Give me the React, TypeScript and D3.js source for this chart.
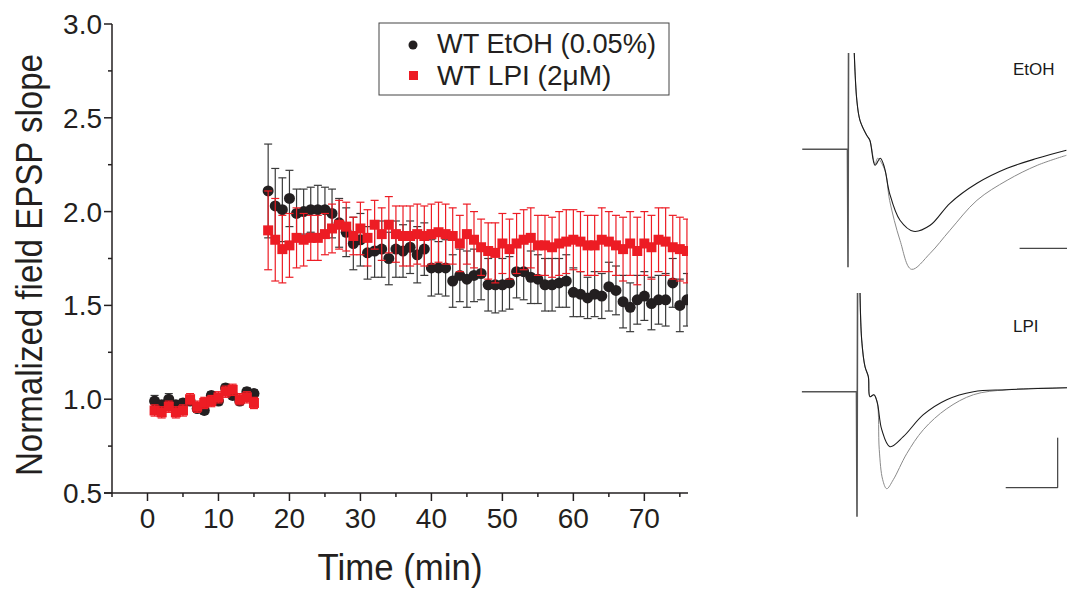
import React from 'react';
import * as d3 from 'd3';

// --- time course data (min, normalized fEPSP slope) ---
const minutes = [
  1, 2, 3, 4, 5, 6, 7, 8, 9, 10, 11, 12, 13, 14, 15,
  17, 18, 19, 20, 21, 22, 23, 24, 25, 26, 27, 28, 29, 30,
  31, 32, 33, 34, 35, 36, 37, 38, 39, 40, 41, 42, 43, 44, 45, 46,
  47, 48, 49, 50, 51, 52, 53, 54, 55, 56, 57, 58, 59, 60, 61, 62,
  63, 64, 65, 66, 67, 68, 69, 70, 71, 72, 73, 74, 75, 76,
];

const etohMean = [
  0.99, 0.97, 1.0, 0.97, 0.98, 0.99, 0.95, 0.94, 1.02, 0.99, 1.06, 1.02, 0.99, 1.04, 1.03,
  2.11, 2.03, 2.01, 2.07, 1.99, 2.0, 2.01, 2.01, 2.01, 1.99, 1.94, 1.89, 1.83, 1.85,
  1.78, 1.79, 1.8, 1.75, 1.8, 1.79, 1.81, 1.77, 1.8, 1.7, 1.7, 1.7, 1.63, 1.66, 1.64, 1.66,
  1.67, 1.61, 1.61, 1.61, 1.62, 1.68, 1.68, 1.65, 1.64, 1.61, 1.61, 1.62, 1.63, 1.57, 1.56, 1.54,
  1.56, 1.55, 1.6, 1.58, 1.52, 1.49, 1.53, 1.55, 1.51, 1.53, 1.53, 1.62, 1.5, 1.53,
];
const etohSem = [
  0.03, 0.02, 0.03, 0.02, 0.02, 0.02, 0.02, 0.02, 0.02, 0.02, 0.02, 0.02, 0.02, 0.02, 0.02,
  0.25, 0.2, 0.17, 0.15, 0.13, 0.12, 0.12, 0.13, 0.12, 0.13, 0.13, 0.13, 0.14, 0.14,
  0.14, 0.14, 0.15, 0.14, 0.15, 0.14, 0.14, 0.15, 0.14, 0.15, 0.14, 0.15, 0.14, 0.14, 0.15, 0.14,
  0.14, 0.14, 0.15, 0.14, 0.14, 0.14, 0.15, 0.14, 0.13, 0.14, 0.14, 0.13, 0.14, 0.13, 0.12, 0.11,
  0.12, 0.12, 0.13, 0.13, 0.14, 0.13, 0.13, 0.13, 0.14, 0.13, 0.14, 0.13, 0.14, 0.14,
];

const lpiMean = [
  0.94, 0.93, 0.96, 0.93, 0.94, 1.0, 0.96, 0.98, 0.99, 1.01, 1.04, 1.05, 1.0, 1.01, 0.98,
  1.9, 1.85, 1.8, 1.82, 1.86, 1.85, 1.86, 1.86, 1.88, 1.91, 1.93, 1.92, 1.87, 1.91,
  1.86, 1.93, 1.88, 1.93, 1.88, 1.87, 1.87, 1.88, 1.87, 1.88, 1.89, 1.88, 1.87, 1.83, 1.88, 1.85,
  1.81, 1.79, 1.78, 1.83, 1.8, 1.83, 1.85, 1.86, 1.82, 1.82, 1.81, 1.83, 1.84, 1.85, 1.84, 1.82,
  1.82, 1.85, 1.84, 1.82, 1.8, 1.83, 1.79, 1.83, 1.81, 1.85, 1.84, 1.81, 1.8, 1.79,
];
const lpiSem = [
  0.03, 0.03, 0.03, 0.03, 0.03, 0.03, 0.03, 0.03, 0.03, 0.03, 0.03, 0.03, 0.03, 0.03, 0.03,
  0.21, 0.22, 0.18, 0.17, 0.16, 0.14, 0.12, 0.12, 0.11, 0.13, 0.13, 0.13, 0.1, 0.14,
  0.15, 0.13, 0.14, 0.15, 0.15, 0.16, 0.16, 0.16, 0.16, 0.16, 0.16, 0.16, 0.15, 0.15, 0.16, 0.15,
  0.15, 0.15, 0.16, 0.16, 0.16, 0.16, 0.16, 0.16, 0.16, 0.16, 0.16, 0.17, 0.17, 0.16, 0.16, 0.16,
  0.16, 0.17, 0.16, 0.16, 0.17, 0.17, 0.18, 0.17, 0.17, 0.17, 0.18, 0.17, 0.17, 0.17,
];

const yMajor = [0.5, 1.0, 1.5, 2.0, 2.5, 3.0];
const yMinor = [0.75, 1.25, 1.75, 2.25, 2.75];
const xMajor = [0, 10, 20, 30, 40, 50, 60, 70];
const xMinor = [-5, 5, 15, 25, 35, 45, 55, 65, 75];

const legendLabels = ['WT EtOH (0.05%)', 'WT LPI (2\u03bcM)'];

// --- example traces (ms, mV) ---
const etohArtifact = [[-4.4, 0], [-0.05, 0], [0, -1.18], [0.1, 3], [0.55, 3], [0.6, 0.97]];
const etohBefore = [
  [0.6, 0.97], [0.85, 0.49], [1.15, 0.29], [1.8, 0.14], [2.1, 0.09], [2.6, -0.16], [3.1, -0.09],
  [3.5, -0.18], [4.0, -0.44], [5.0, -0.71], [6.3, -0.82], [7.9, -0.76], [9.8, -0.54],
  [12.4, -0.34], [15.3, -0.19], [18.2, -0.09], [21.0, -0.01],
];
const etohAfter = [
  [0.6, 0.97], [0.85, 0.49], [1.15, 0.29], [1.8, 0.14], [2.1, 0.09], [2.6, -0.15], [2.85, -0.09],
  [3.55, -0.21], [4.0, -0.51], [5.0, -0.91], [6.1, -1.2], [7.9, -1.04], [9.8, -0.81],
  [12.4, -0.51], [15.3, -0.31], [18.2, -0.16], [21.0, -0.06],
];
const lpiArtifact = [[-5.3, 0], [-0.05, 0], [0, -1.25], [0.1, 3], [0.25, 3], [0.29, 0.99]];
const lpiBefore = [
  [0.29, 0.99], [0.45, 0.52], [0.77, 0.25], [1.09, 0.15], [1.25, -0.05], [1.63, -0.03],
  [1.95, -0.11], [2.38, -0.38], [3.17, -0.55], [4.45, -0.45], [6.38, -0.23], [8.63, -0.08],
  [11.2, 0.0], [14.4, 0.02], [20.2, 0.04],
];
const lpiAfter = [
  [0.29, 0.99], [0.45, 0.52], [0.77, 0.25], [1.09, 0.15], [1.25, -0.05], [1.63, -0.03],
  [1.95, -0.11], [2.14, -0.58], [2.47, -0.88], [2.86, -0.97], [3.49, -0.88], [4.78, -0.62],
  [6.38, -0.38], [8.63, -0.17], [11.2, -0.03], [14.4, 0.02], [20.2, 0.04],
];
// scale bars: 5 ms x 0.5 mV
const etohScaleBar = [[16.5, -0.99], [21.5, -0.99], [21.5, -0.49]];
const lpiScaleBar = [[14.3, -0.96], [19.3, -0.96], [19.3, -0.46]];

const FONT = '"Liberation Sans", Arial, Helvetica, sans-serif';
const INK = '#231f20';
const RED = '#ed1c24';

const TracePanel = ({ x0, y0, clipTop, clipBottom, id, label, labelY, artifact, before, after, bar }) => {
  const tx = d3.scaleLinear().domain([0, 5]).range([x0, x0 + 52]);
  const ty = d3.scaleLinear().domain([0, -0.5]).range([y0, y0 + 50]);
  const lin = d3.line().x(d => tx(d[0])).y(d => ty(d[1]));
  const smooth = d3.line().x(d => tx(d[0])).y(d => ty(d[1])).curve(d3.curveCatmullRom.alpha(0.5));
  return (
    <g>
      <clipPath id={id}>
        <rect x={790} y={clipTop} width={290} height={clipBottom - clipTop} />
      </clipPath>
      <g clipPath={`url(#${id})`}>
        <path d={smooth(after)} fill="none" stroke="#8a8a8a" strokeWidth={1} />
        <path d={smooth(before)} fill="none" stroke="#1a1a1a" strokeWidth={1.1} />
        <path d={lin(artifact)} fill="none" stroke="#555" strokeWidth={1.6} />
      </g>
      <path d={lin(bar)} fill="none" stroke="#1a1a1a" strokeWidth={1} />
      <text x={1013} y={labelY} fontFamily={FONT} fontSize={17} fill="#1a1a1a">{label}</text>
    </g>
  );
};

export default function App() {
  const x = d3.scaleLinear().domain([-5, 76.15]).range([112, 688]);
  const y = d3.scaleLinear().domain([0.5, 3.0]).range([493, 24]);

  const etoh = minutes.map((t, i) => ({ t, m: etohMean[i], e: etohSem[i] }));
  const lpi = minutes.map((t, i) => ({ t, m: lpiMean[i], e: lpiSem[i] }));
  const cap = 4;

  const errBars = (data, color, key) =>
    data.map(d => {
      const cx = x(d.t);
      const top = y(d.m + d.e);
      const bot = y(d.m - d.e);
      return (
        <g key={key + d.t} stroke={color} strokeWidth={1.2}>
          <line x1={cx} x2={cx} y1={top} y2={bot} />
          <line x1={cx - cap} x2={cx + cap} y1={top} y2={top} />
          <line x1={cx - cap} x2={cx + cap} y1={bot} y2={bot} />
        </g>
      );
    });

  return (
    <svg width={1067} height={592} style={{ position: 'absolute', left: 0, top: 0, background: '#fff' }}>
      <clipPath id="plotClip">
        <rect x={112} y={0} width={576} height={493} />
      </clipPath>

      <g clipPath="url(#plotClip)">
        {errBars(etoh, '#3a3a3a', 'eb')}
        {etoh.map(d => (
          <circle key={'ec' + d.t} cx={x(d.t)} cy={y(d.m)} r={5.5} fill={INK} />
        ))}
        {errBars(lpi, RED, 'lb')}
        {lpi.map(d => (
          <rect key={'lr' + d.t} x={x(d.t) - 5} y={y(d.m) - 5} width={10} height={10} fill={RED} />
        ))}
      </g>

      {/* y axis */}
      <g stroke={INK} strokeWidth={1.5}>
        <line x1={112} x2={112} y1={y(3.0)} y2={y(0.5)} />
        {yMajor.map(v => <line key={'ym' + v} x1={104} x2={112} y1={y(v)} y2={y(v)} />)}
        {yMinor.map(v => <line key={'yn' + v} x1={108} x2={112} y1={y(v)} y2={y(v)} />)}
      </g>
      {yMajor.map(v => (
        <text key={'yl' + v} x={102} y={y(v) + 10} textAnchor="end" fontFamily={FONT} fontSize={28} fill={INK}>
          {v.toFixed(1)}
        </text>
      ))}

      {/* x axis */}
      <g stroke={INK} strokeWidth={1.5}>
        <line x1={104} x2={688} y1={493} y2={493} />
        {xMajor.map(v => <line key={'xm' + v} x1={x(v)} x2={x(v)} y1={493} y2={501} />)}
        {xMinor.map(v => <line key={'xn' + v} x1={x(v)} x2={x(v)} y1={493} y2={497} />)}
      </g>
      {xMajor.map(v => (
        <text key={'xl' + v} x={x(v)} y={528} textAnchor="middle" fontFamily={FONT} fontSize={28} fill={INK}>
          {v}
        </text>
      ))}

      <text x={400} y={580} textAnchor="middle" fontFamily={FONT} fontSize={37} fill={INK}
        textLength={165} lengthAdjust="spacingAndGlyphs">Time (min)</text>
      <text transform="translate(42,265) rotate(-90)" textAnchor="middle" fontFamily={FONT} fontSize={37} fill={INK}
        textLength={422} lengthAdjust="spacingAndGlyphs">Normalized field EPSP slope</text>

      {/* legend */}
      <rect x={379} y={23} width={290} height={72} fill="#fff" stroke="#444" strokeWidth={1} />
      <circle cx={413} cy={45} r={4.5} fill={INK} />
      <rect x={409} y={71} width={9} height={9} fill={RED} />
      <text x={437} y={52.5} fontFamily={FONT} fontSize={28} fill={INK} textLength={219} lengthAdjust="spacingAndGlyphs">
        {legendLabels[0]}
      </text>
      <text x={437} y={85} fontFamily={FONT} fontSize={28} fill={INK}>
        {legendLabels[1]}
      </text>

      <TracePanel id="clipTop" x0={848} y0={149.3} clipTop={53} clipBottom={290}
        label="EtOH" labelY={75} artifact={etohArtifact} before={etohBefore} after={etohAfter} bar={etohScaleBar} />
      <TracePanel id="clipBot" x0={857} y0={391.7} clipTop={293} clipBottom={530}
        label="LPI" labelY={332} artifact={lpiArtifact} before={lpiBefore} after={lpiAfter} bar={lpiScaleBar} />
    </svg>
  );
}
